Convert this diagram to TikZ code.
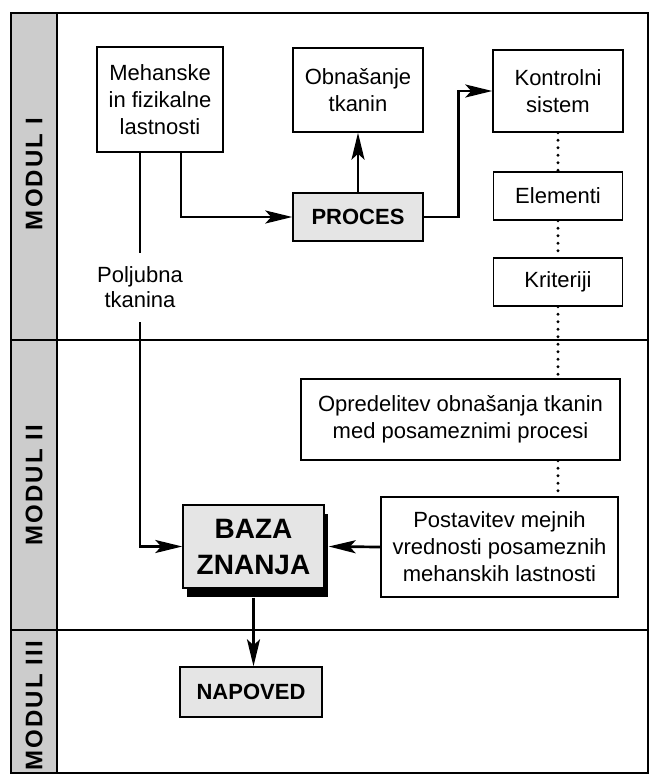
\documentclass[tikz,border=0pt]{standalone}
\usepackage{fontspec}
\setmainfont{Liberation Sans}
\usetikzlibrary{arrows.meta,calc,shadows}
\begin{document}
\begin{tikzpicture}[x=1pt,y=-1pt,
  box/.style={draw, line width=1.4pt, align=center, inner sep=0pt, fill=white,
    font=\fontsize{22}{27}\selectfont},
  gbox/.style={box, fill=gray!20, font=\fontsize{22}{27}\selectfont\bfseries},
  arr/.style={line width=2.7pt, -{Stealth[length=27pt,width=13pt,inset=6pt]}},
  dotline/.style={line width=3.2pt, line cap=round, dash pattern=on 0pt off 7.5pt},
  modlab/.style={rotate=90, font=\fontsize{24}{24}\selectfont\bfseries\addfontfeatures{LetterSpace=9}},
  divider/.style={line width=2.3pt}
]
\useasboundingbox (0,0) rectangle (651,776);
% frame and module strip
\fill[gray!40] (11,13) rectangle (57,773);
\draw[divider] (57,13) -- (57,773);
\draw[divider] (11,340) -- (648,340);
\draw[divider] (11,630) -- (648,630);
\draw[line width=2.6pt] (11,13) rectangle (648,773);
\node[modlab] (m1) at (34,174) {MODUL I};
\node[modlab] (m2) at (34,485) {MODUL II};
\node[modlab] (m3) at (34,706) {MODUL III};

% module I
\node[box, minimum width=126pt, minimum height=105pt] (meh) at (160,99.5)
  {Mehanske\\in fizikalne\\lastnosti};
\node[box, minimum width=130pt, minimum height=84pt] (obn) at (358,90)
  {Obnašanje\\tkanin};
\node[box, minimum width=130pt, minimum height=82pt] (kon) at (558,91)
  {Kontrolni\\sistem};
\node[gbox, minimum width=130pt, minimum height=48pt] (pro) at (358,217) {PROCES};
\node[box, minimum width=129pt, minimum height=48pt] (ele) at (558,196) {Elementi};
\node[box, minimum width=129pt, minimum height=48pt] (kri) at (558,282) {Kriteriji};

% module II
\node[box, minimum width=319pt, minimum height=81pt] (opr) at (460.5,419.5)
  {Opredelitev obnašanja tkanin\\med posameznimi procesi};
\node[box, minimum width=237pt, minimum height=100pt] (pos) at (499.5,547)
  {Postavitev mejnih\\vrednosti posameznih\\mehanskih lastnosti};
\node[gbox, minimum width=141pt, minimum height=83pt,
  font=\fontsize{28}{36}\selectfont\bfseries,
  drop shadow={shadow xshift=4pt, shadow yshift=-9pt, opacity=1, fill=black}]
  (baz) at (253.5,546.5) {BAZA\\ZNANJA};

% module III
\node[gbox, minimum width=142pt, minimum height=50pt] (nap) at (251,692) {NAPOVED};

% connectors
\draw[arr] ([xshift=21pt]meh.south) |- (pro.west);
\draw[arr] ([xshift=-20pt]meh.south) |- (baz.west)
  node[pos=0.171, fill=white, inner xsep=2pt, inner ysep=14pt, align=center,
       font=\fontsize{22}{25}\selectfont] (pol) {Poljubna\\tkanina};
\draw[arr] (pro.north) -- (obn.south);
\draw[arr] (pro.east) -- ++(35,0) |- (kon.west);
\draw[dotline] (kon.south) -- (ele.north);
\draw[dotline] (ele.south) -- (kri.north);
\draw[dotline] (kri.south) -- (kri.south |- opr.north);
\draw[dotline] (opr.south -| kri.south) -- (pos.north -| kri.south);
\draw[arr] (pos.west) -- ([xshift=4pt]baz.east);
\draw[arr] ([yshift=-9pt]baz.south) -- (baz.south |- nap.north);
\end{tikzpicture}
\end{document}
